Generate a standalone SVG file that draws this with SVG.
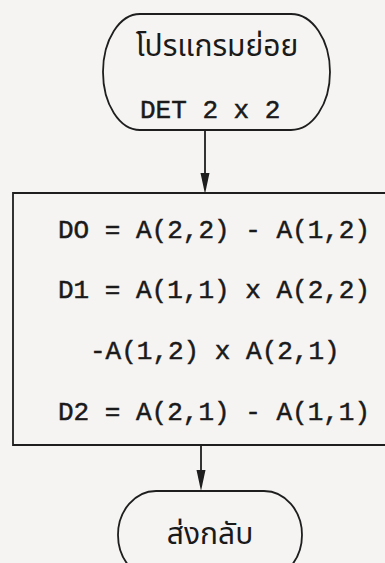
<svg xmlns="http://www.w3.org/2000/svg" width="385" height="563" viewBox="0 0 385 563">
<style>
.shape{fill:none;stroke:#1e1e1e;stroke-width:1.8}
.line{fill:none;stroke:#1e1e1e;stroke-width:1.8}
.head{fill:#1e1e1e;stroke:none}
.thai{font-family:"Noto Sans Thai","Noto Serif Thai","Noto Sans","DejaVu Sans",sans-serif;fill:#1a1a1a}
.mono{font-family:"Liberation Mono","Courier New",monospace;font-size:26px;fill:#1a1a1a;stroke:#1a1a1a;stroke-width:0.5}
</style>
<rect x="0" y="0" width="385" height="563" fill="#f6f4f3"/>
<g id="start">
<path class="shape" d="M140,14 H291 A39,58 0 0 1 291,130 H140 A37,58 0 0 1 140,14 Z"/>
<text class="thai" x="217" y="56" font-size="30" text-anchor="middle">โปรแกรมย่อย</text>
<text class="mono" x="140" y="118">DET 2 x 2</text>
</g>
<g id="process">
<path class="shape" d="M390,193 H13 V445 H390"/>
<text class="mono" x="58" y="238">DO = A(2,2) - A(1,2)</text>
<text class="mono" x="58" y="298">D1 = A(1,1) x A(2,2)</text>
<text class="mono" x="90" y="359">-A(1,2) x A(2,1)</text>
<text class="mono" x="58" y="420">D2 = A(2,1) - A(1,1)</text>
</g>
<g id="end">
<path class="shape" d="M156,491 H264 A38,44 0 0 1 264,579 H156 A38,44 0 0 1 156,491 Z"/>
<text class="thai" x="210" y="544" font-size="30" text-anchor="middle">ส่งกลับ</text>
</g>
<g id="connectors">
<line class="line" x1="205" y1="130" x2="205" y2="180"/>
<polygon class="head" points="200.5,173 209.5,173 205,194"/>
<line class="line" x1="201" y1="445" x2="201" y2="476"/>
<polygon class="head" points="196.5,470 205.5,470 201,491"/>
</g>
</svg>
